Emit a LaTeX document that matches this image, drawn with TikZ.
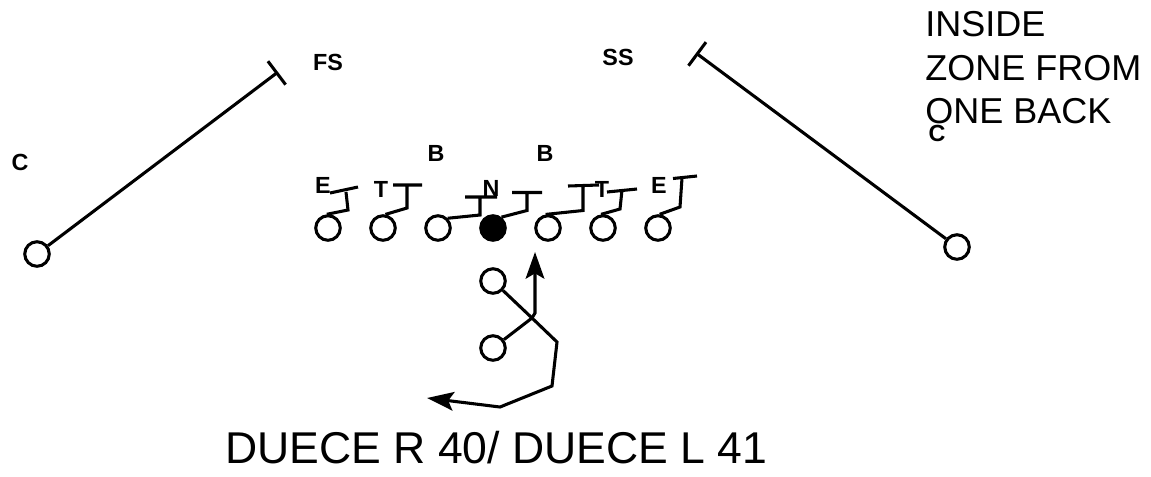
\documentclass[tikz,border=0pt]{standalone}
\usepackage{fontspec}
\setmainfont{Liberation Sans}
\usetikzlibrary{arrows.meta}
\begin{document}
\begin{tikzpicture}[x=0.75pt,y=-0.75pt,
  ln/.style={line width=2.3pt},
  pl/.style={circle,draw,line width=2.3pt,minimum size=18.4pt,inner sep=0pt},
  ctr/.style={pl,fill=black},
  lbl/.style={font=\bfseries\fontsize{17.5}{20}\selectfont,inner sep=0pt},
  route/.style={ln,-{Stealth[length=20pt,width=14pt,inset=4pt]}},
  cover/.style={ln,-{Bar[width=22pt]}},
  title/.style={anchor=base west,inner sep=0pt,font=\fontsize{27}{32}\selectfont}
]
\fill[white] (0,0) rectangle (1151,476);
\useasboundingbox (0,0) rectangle (1151,476);

% corners and safeties
\node[pl] (cl) at (37,254) {};
\node[pl] (cr) at (957,247) {};
\coordinate (fsend) at (278,72);
\coordinate (ssend) at (696,53);
\draw[cover] (cl) -- (fsend);
\draw[cover] (cr) -- (ssend);

% offensive line
\foreach \i/\x in {1/328,2/383,3/438,5/548,6/603,7/658}
  \node[pl] (o\i) at (\x,228) {};
\node[ctr] (o4) at (493,228) {};

% blocks
\draw[ln] (o1.95) -- (348,210) -- (346,192) (330,193) -- (358,187);
\draw[ln] (o2.80) -- (407,208) -- (407,185) (393,185) -- (422,185);
\draw[ln] (o3.45) -- (480,215) -- (480,197) (465,197) -- (497,197);
\draw[ln] (o4.52) -- (527,210.5) -- (527,192.5) (512,192.5) -- (542,192.5);
\draw[ln] (o5.100) -- (583,210.5) -- (583,186) (568,186) -- (599,185);
\draw[ln] (o6.98) -- (620,209) -- (622,190) (607,192) -- (637,189);
\draw[ln] (o7.83) -- (680,207) -- (682,178) (673,178.5) -- (697,176);

% backs
\node[pl] (b1) at (493,281) {};
\node[pl] (b2) at (493,348) {};
\coordinate (x) at (532,318);
\coordinate (r1) at (557,342);
\coordinate (r2) at (552,386);
\coordinate (r3) at (500,407);
\coordinate (r4) at (427,398);
\coordinate (u1) at (535,313);
\coordinate (u2) at (535,252);
\draw[route] (b1) -- (x) -- (r1) -- (r2) -- (r3) -- (r4);
\draw[route] (b2) -- (x) -- (u1) -- (u2);

% labels
\node[lbl] (lc) at (20,162) {C};
\node[lbl] (fs) at (328,62) {FS};
\node[lbl] (ss) at (618,57) {SS};
\node[lbl] (rc) at (937,133) {C};
\node[lbl] (lb1) at (436,153) {B};
\node[lbl] (lb2) at (545,153) {B};
\node[lbl] (le) at (323,185) {E};
\node[lbl] (lt) at (381,189) {T};
\node[lbl] (ln) at (491,188) {N};
\node[lbl] (rt) at (602,189) {T};
\node[lbl] (re) at (659,185) {E};

% titles
\node[title] (t1) at (925,36.7) {INSIDE};
\node[title] (t2) at (925,80) {ZONE FROM};
\node[title] (t3) at (925,123.3) {ONE BACK};
\node[anchor=base west,inner sep=0pt,font=\fontsize{33.4}{40}\selectfont] (dt) at (225,463) {DUECE R 40/ DUECE L 41};
\end{tikzpicture}
\end{document}
